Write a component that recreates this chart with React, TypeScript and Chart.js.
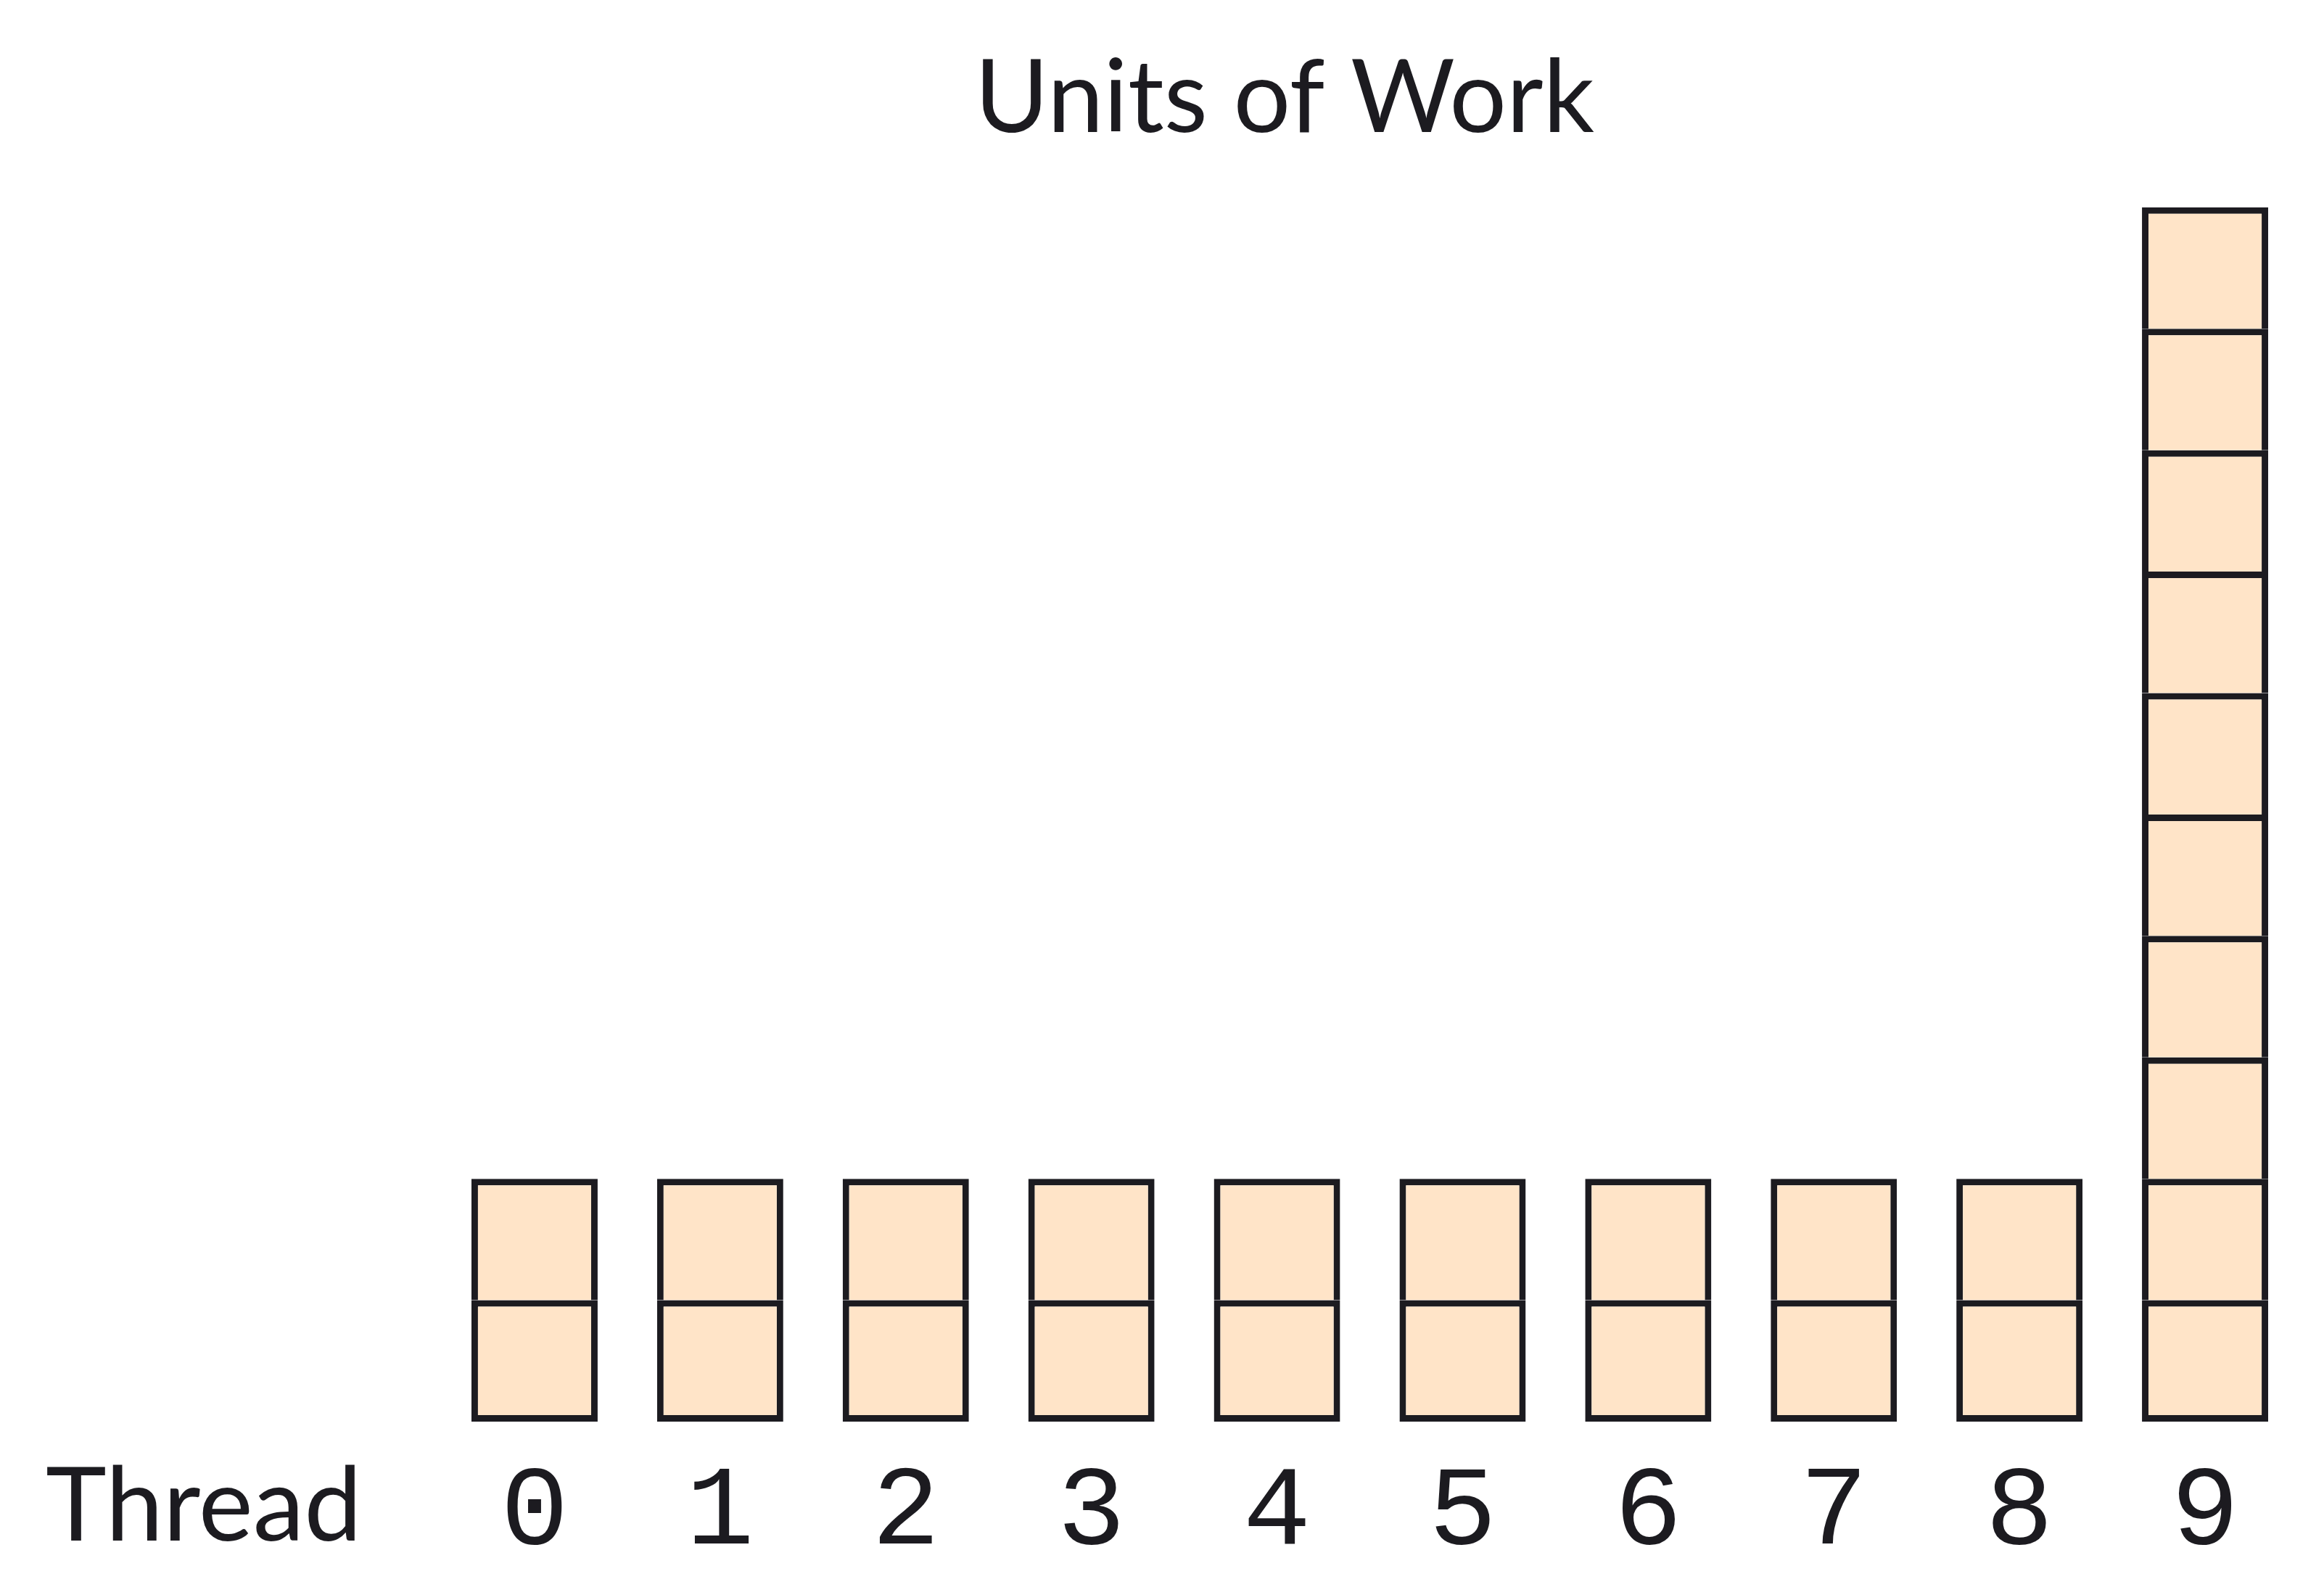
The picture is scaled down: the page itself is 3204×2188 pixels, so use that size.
import { useEffect, useRef } from "react";
import { Chart, registerables } from "chart.js";

Chart.register(...registerables);

const threads = ["0", "1", "2", "3", "4", "5", "6", "7", "8", "9"];
const unitsOfWork = [2, 2, 2, 2, 2, 2, 2, 2, 2, 10];
const maxUnits = 10;
const chartTitle = "Units of Work";
const axisLabel = "Thread";

const FILL = "#FFE4C8";
const INK = "#1C1B20";
const TEXT_FONT = "Lato, 'Open Sans', sans-serif";
const MONO_FONT = "'Liberation Mono', 'DejaVu Sans Mono', monospace";

const threadLabelPlugin = {
  id: "threadLabel",
  afterDraw(chart: any) {
    const { ctx, chartArea } = chart;
    ctx.save();
    ctx.font = `400 142px ${TEXT_FONT}`;
    ctx.fillStyle = INK;
    ctx.textAlign = "left";
    ctx.textBaseline = "alphabetic";
    ctx.fillText(axisLabel, chartArea.left - 546, chartArea.bottom + 164);
    ctx.restore();
  },
};

export default function App() {
  const ref = useRef<HTMLCanvasElement | null>(null);

  useEffect(() => {
    if (!ref.current) return;
    const datasets = Array.from({ length: maxUnits }, (_, k) => ({
      label: `unit ${k + 1}`,
      data: unitsOfWork.map((u) => (u > k ? 1 : null)),
      backgroundColor: FILL,
      borderColor: INK,
      borderWidth: { left: 9, right: 9, top: 9, bottom: k === 0 ? 9 : 0 },
      borderSkipped: false as const,
      barPercentage: 0.68,
      categoryPercentage: 1,
      stack: "work",
    }));

    const chart = new Chart(ref.current, {
      type: "bar",
      data: { labels: threads, datasets },
      options: {
        animation: false,
        responsive: false,
        devicePixelRatio: 1,
        layout: { padding: { left: 374, right: 36, top: 0, bottom: 0 } },
        plugins: {
          legend: { display: false },
          tooltip: { enabled: false },
          title: {
            display: true,
            text: chartTitle,
            color: INK,
            font: { family: TEXT_FONT, size: 139, weight: "normal" },
            padding: { top: 54, bottom: 65 },
          },
        },
        scales: {
          x: {
            stacked: true,
            grid: { display: false, drawTicks: false },
            border: { display: false },
            ticks: {
              color: INK,
              padding: 33,
              font: { family: MONO_FONT, size: 156 },
            },
            afterFit(scale: any) {
              scale.height = 228;
            },
          },
          y: {
            stacked: true,
            min: 0,
            max: maxUnits,
            grid: { display: false, drawTicks: false },
            border: { display: false },
            ticks: { display: false },
            afterFit(scale: any) {
              scale.width = 235;
            },
          },
        },
      },
      plugins: [threadLabelPlugin],
    });
    return () => chart.destroy();
  }, []);

  return (
    <canvas
      ref={ref}
      width={3204}
      height={2188}
      style={{ position: "absolute", left: 0, top: 0, width: 3204, height: 2188 }}
    />
  );
}
